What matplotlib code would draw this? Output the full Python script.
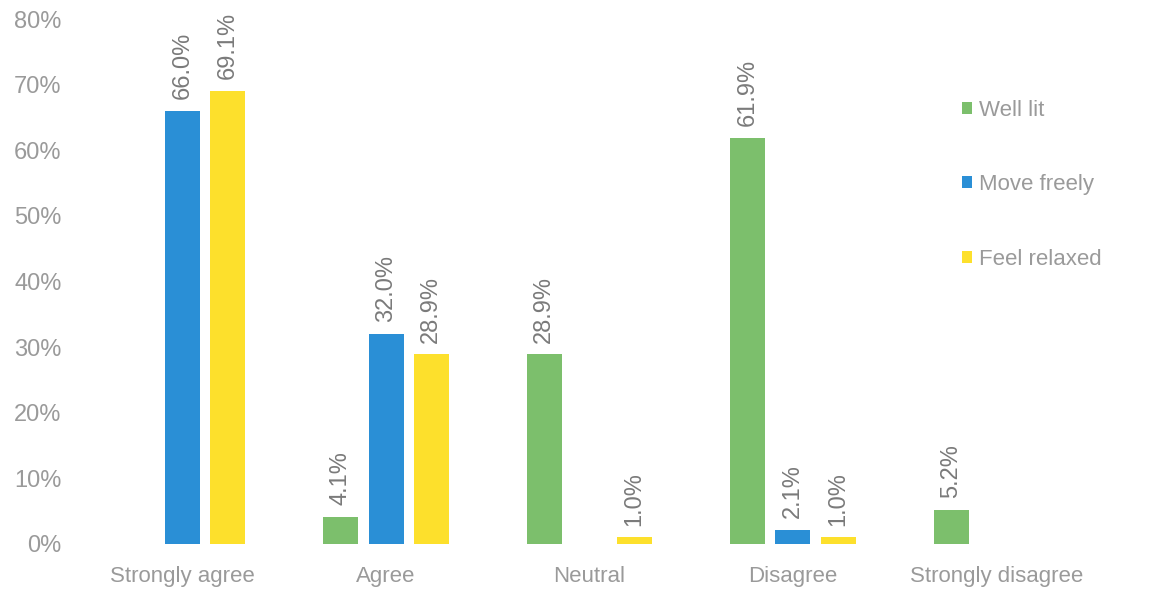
import matplotlib.pyplot as plt
import numpy as np

plt.rcParams['font.family'] = ['Liberation Sans', 'DejaVu Sans']

categories = ["Strongly agree", "Agree", "Neutral", "Disagree", "Strongly disagree"]
series = ["Well lit", "Move freely", "Feel relaxed"]
well_lit = [0.0, 4.1, 28.9, 61.9, 5.2]
move_freely = [66.0, 32.0, 0.0, 2.1, 0.0]
feel_relaxed = [69.1, 28.9, 1.0, 1.0, 0.0]
colors = ["#7cbf6c", "#2a8fd6", "#fde02c"]

fig = plt.figure(figsize=(11.74, 5.98), dpi=100)
ax = fig.add_axes([81 / 1174, 54 / 598, (1098 - 81) / 1174, (544 - 19) / 598])

x = np.arange(len(categories))
step = 0.222
width = 0.172
for i, (name, vals) in enumerate(zip(series, [well_lit, move_freely, feel_relaxed])):
    vals = np.array(vals)
    pos = x + (i - 1) * step
    mask = vals > 0
    ax.bar(pos[mask], vals[mask] / 100, width, color=colors[i], label=name)
    for p, v in zip(pos[mask], vals[mask]):
        ax.text(p, v / 100 + 0.018, f"{v:.1f}%", rotation=90, ha="center", va="bottom",
                fontsize=17, color="#7a7a7a")

ax.set_xlim(-0.5, len(categories) - 0.5)
ax.set_ylim(0, 0.8)
ax.set_yticks(np.arange(0, 0.81, 0.1))
ax.set_yticklabels([f"{int(round(t * 100))}%" for t in np.arange(0, 0.81, 0.1)])
ax.set_xticks(x)
ax.set_xticklabels(categories)
ax.tick_params(axis="both", length=0, labelsize=16, colors="#9a9a9a")
ax.tick_params(axis="x", pad=16)
ax.tick_params(axis="y", pad=14, labelsize=17)
for s in ax.spines.values():
    s.set_visible(False)

fig.legend(loc="upper left", bbox_to_anchor=(942 / 1174, 1 - 80 / 598), frameon=False,
           handlelength=0.45, handleheight=0.45, handletextpad=0.3, labelspacing=2.4,
           fontsize=16, labelcolor="#9a9a9a")

fig.savefig("out.png", dpi=100)
